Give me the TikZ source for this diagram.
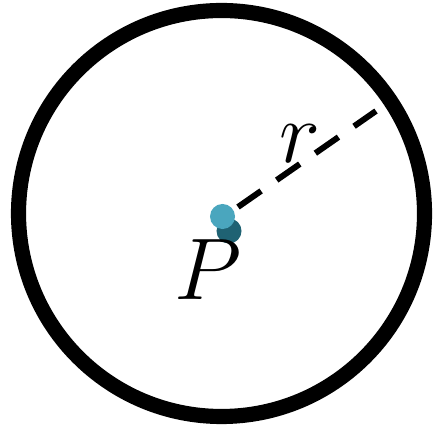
\documentclass[tikz,border=0pt]{standalone}
\usetikzlibrary{positioning,calc}
\definecolor{balllight}{HTML}{4AA6BE}
\definecolor{balldark}{HTML}{1F6273}

\begin{document}
\begin{tikzpicture}[
    x=0.01cm, y=-0.01cm,
    rim/.style={draw=black, line width=4.3pt},
    ball/.style={circle, inner sep=0pt, minimum size=0.25cm},
    radius line/.style={line width=1.7pt, dash pattern=on 8pt off 5.4pt},
    lbl/.style={font=\fontsize{24}{24}\selectfont, inner sep=0pt}
]
\useasboundingbox (0,0) rectangle (434,425);
\draw[rim] (221.5,213.5) circle (203);
\node[ball, fill=balldark] (shade) at (229,231) {};
\node[ball, fill=balllight] (dot) at (222.5,216.5) {};
\coordinate (start) at (238,207);
\coordinate (rimpt) at (376,111);
\draw[radius line] (start) -- (rimpt);
\node[lbl] (r) at (300,144) {$r$};
\node[lbl] (P) at (208,270) {$P$};
\end{tikzpicture}
\end{document}
